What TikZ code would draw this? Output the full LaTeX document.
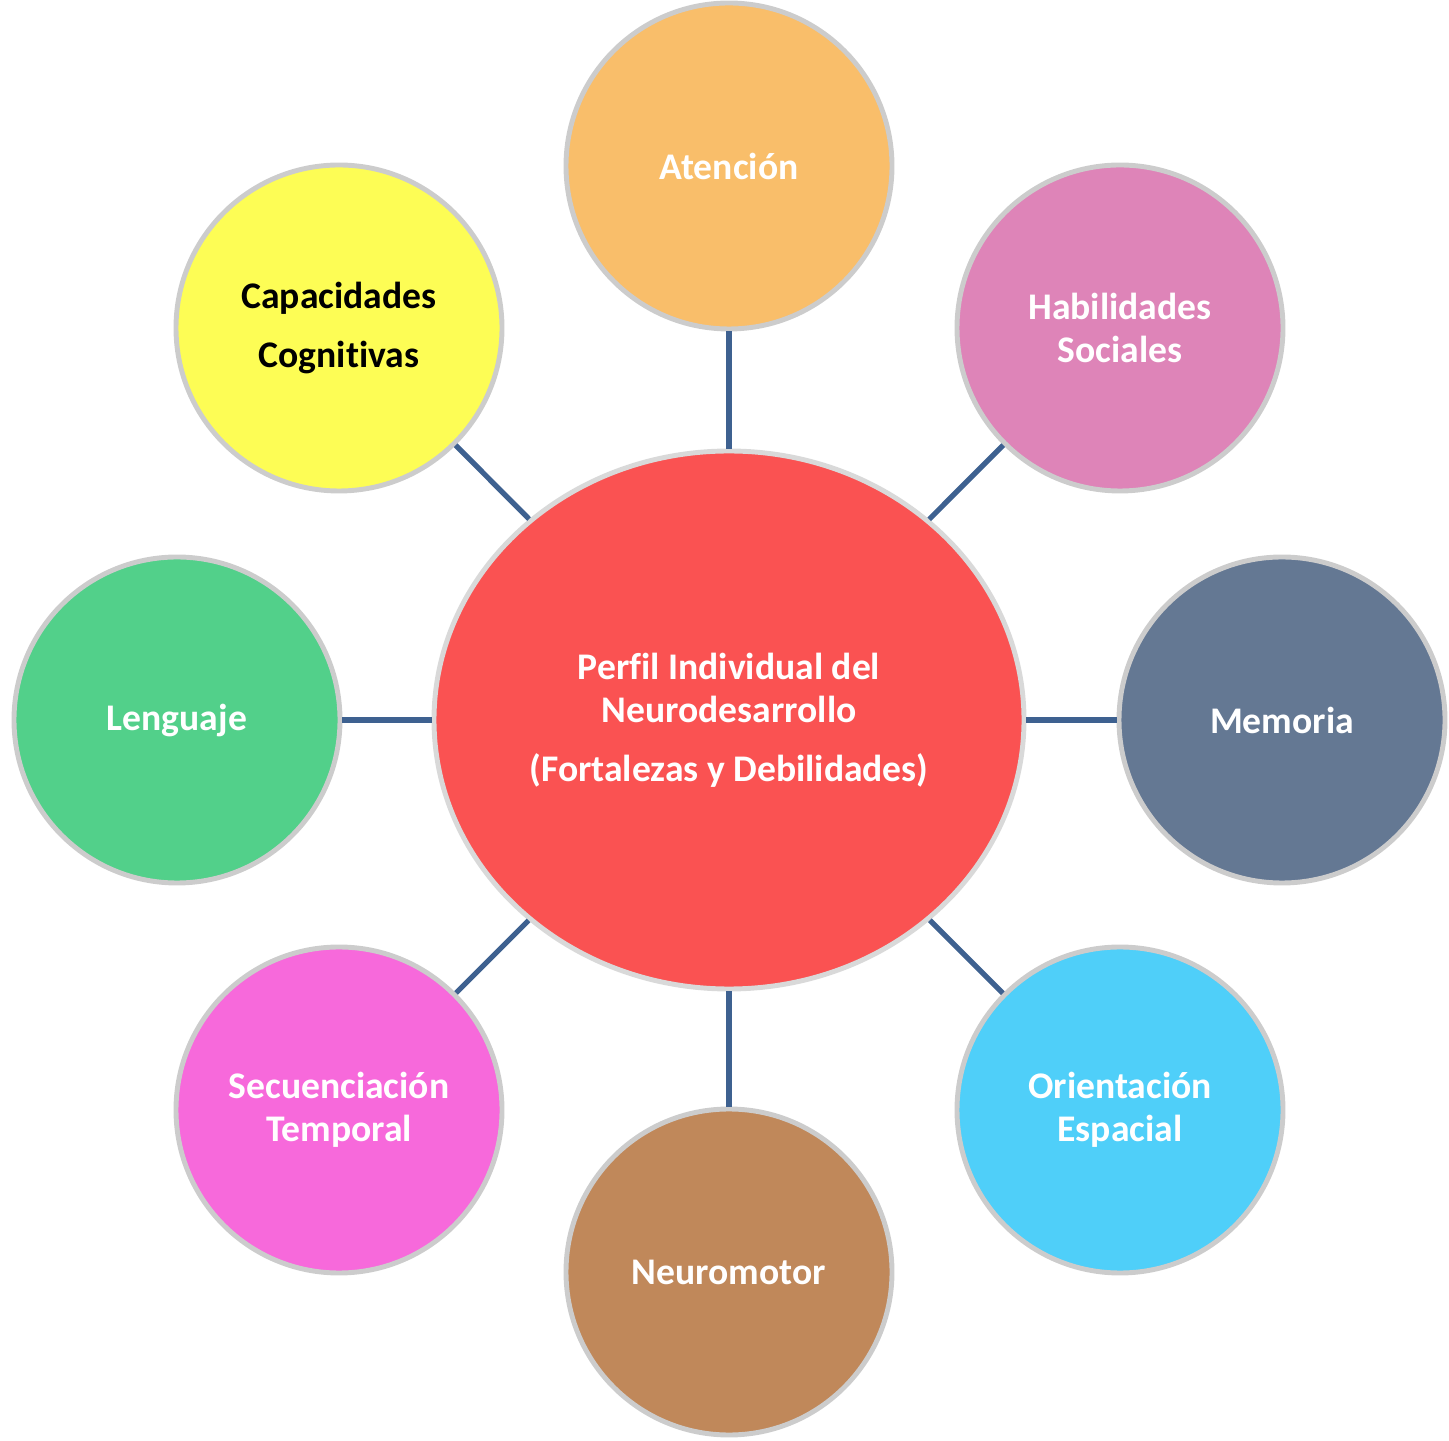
\documentclass[tikz,border=0pt]{standalone}
\usepackage{fontspec}
\setmainfont{Carlito}[Ligatures=NoCommon]
\usepackage{xcolor}
\usepackage{tikz}
\usetikzlibrary{shapes.geometric}

\definecolor{linkblue}{HTML}{3E6190}
\definecolor{perfilred}{HTML}{FA5252}
\definecolor{atenorange}{HTML}{F9BE6A}
\definecolor{habpink}{HTML}{DE84B8}
\definecolor{memslate}{HTML}{647893}
\definecolor{oricyan}{HTML}{4FCFF9}
\definecolor{neurobrown}{HTML}{C0885A}
\definecolor{secmagenta}{HTML}{F769DB}
\definecolor{lenggreen}{HTML}{52D08A}
\definecolor{capyellow}{HTML}{FDFD55}

\tikzset{
	area/.style={circle, minimum size=3.26cm, inner sep=0pt, align=center,
		draw=gray!40, line width=1.4pt, text=white,
		font=\fontsize{10.7}{12.3}\selectfont\bfseries},
	perfil/.style={ellipse, minimum width=5.9cm, minimum height=5.38cm,
		inner sep=0pt, align=center, fill=perfilred, draw=gray!30,
		line width=1.4pt, text=white,
		font=\fontsize{10.7}{12.3}\selectfont\bfseries},
	link/.style={draw=linkblue, line width=1.5pt}
}

\begin{document}
\begin{tikzpicture}
		\useasboundingbox (0,0) rectangle (14.49,14.40);
		% Central node
		\node[perfil] (perfil) at (7.29,7.20)
			{Perfil Individual del\\Neurodesarrollo\\[4.5pt](Fortalezas y Debilidades)};
		% Surrounding areas
		\node[area, fill=atenorange] (atencion) at (7.29,12.74) {Atención};
		\node[area, fill=habpink] (habilidades) at (11.20,11.12) {Habilidades\\Sociales};
		\node[area, fill=memslate] (memoria) at (12.82,7.20) {Memoria};
		\node[area, fill=oricyan] (orientacion) at (11.20,3.30) {Orientación\\Espacial};
		\node[area, fill=neurobrown] (neuromotor) at (7.29,1.68) {Neuromotor};
		\node[area, fill=secmagenta] (secuenciacion) at (3.39,3.30) {Secuenciación\\Temporal};
		\node[area, fill=lenggreen] (lenguaje) at (1.77,7.20) {Lenguaje};
		\node[area, fill=capyellow, text=black] (capacidades) at (3.39,11.12) {Capacidades\\[4.5pt]Cognitivas};
		% Draw links
		\foreach \n in {atencion,habilidades,memoria,orientacion,neuromotor,secuenciacion,lenguaje,capacidades}
		\draw[link] (perfil) -- (\n);

	\end{tikzpicture}
\end{document}
